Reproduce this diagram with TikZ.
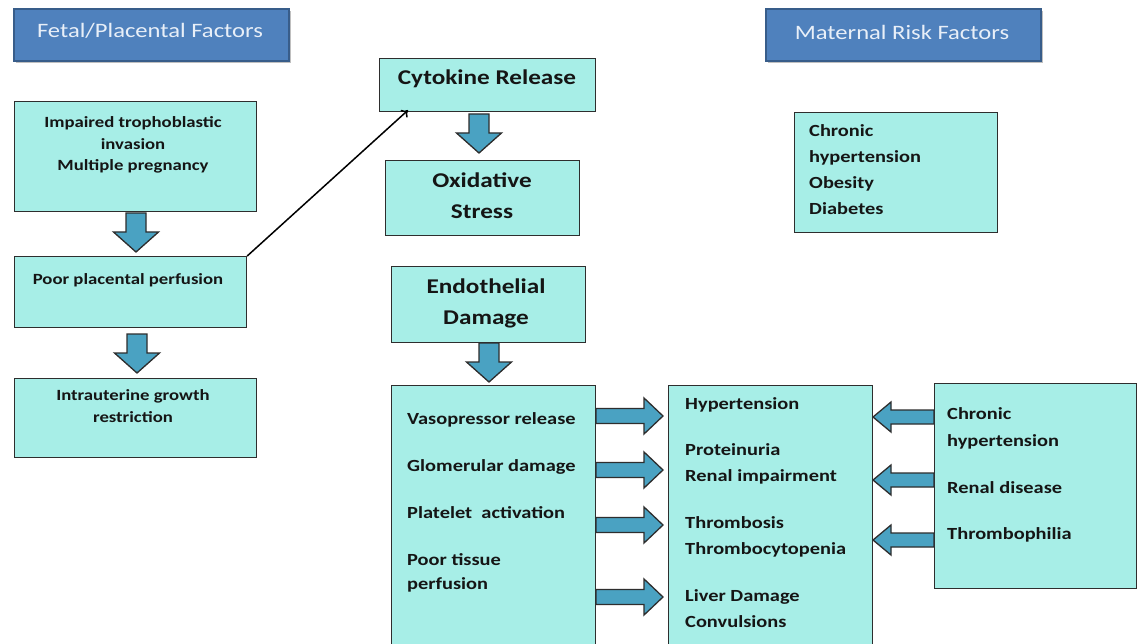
\documentclass[tikz,border=0pt]{standalone}
\usepackage{fontspec}
\setmainfont{Carlito}[FakeStretch=1.2]
\usetikzlibrary{calc,arrows.meta}
\definecolor{boxfill}{HTML}{A7EEE7}
\definecolor{boxline}{HTML}{2E2E2E}
\definecolor{arrfill}{HTML}{4AA2C2}
\definecolor{hdrfill}{HTML}{4F81BD}
\definecolor{hdrline}{HTML}{385D8A}
\definecolor{hdrtext}{HTML}{E8EFF8}
\definecolor{txt}{HTML}{151515}
\tikzset{
  box/.style={draw=boxline, line width=1.2pt, fill=boxfill, anchor=north west, inner sep=0pt},
  hdr/.style={draw=hdrline, line width=1.6pt, fill=hdrfill, anchor=north west, inner sep=0pt,
     minimum width=275pt, minimum height=52pt},
  hdrt/.style={inner sep=0pt, text=hdrtext, font=\fontsize{20.5}{24}\selectfont},
  txtS/.style={inner sep=0pt, text=txt, anchor=north, align=center, font=\bfseries\fontsize{15.6}{21.5}\selectfont},
  txtL/.style={inner sep=0pt, text=txt, anchor=north, align=center, font=\bfseries\fontsize{21}{31}\selectfont},
  txtM/.style={inner sep=0pt, text=txt, anchor=north west, align=left, font=\bfseries\fontsize{17}{24}\selectfont},
  blk/.style={draw=boxline, line width=1.3pt, fill=arrfill, line join=miter},
  pics/darrow/.style={code={\draw[blk] (-10,0) -- (10,0) -- (10,19) -- (22.5,19) -- (0,39) -- (-22.5,19) -- (-10,19) -- cycle;}},
  pics/rarrow/.style={code={\draw[blk] (0,-7.5) -- (48,-7.5) -- (48,-18) -- (67,0) -- (48,18) -- (48,7.5) -- (0,7.5) -- cycle;}},
  pics/larrow/.style={code={\draw[blk] (0,-7) -- (-43,-7) -- (-43,-15) -- (-61,0) -- (-43,15) -- (-43,7) -- (0,7) -- cycle;}},
  linkarrow/.style={draw=black, line width=1.5pt, -{To[length=6pt,width=10pt]}}
}
\begin{document}
\begin{tikzpicture}[x=1pt,y=-1pt]
\useasboundingbox (0,0) rectangle (1137,644);
\fill[white] (0,0) rectangle (1137,644);
\clip (0,0) rectangle (1137,644);

% headers with soft shadow
\fill[black!25] (16,11) rectangle (291,63);
\fill[black!25] (768,11) rectangle (1043,63);
\node[hdr] (fetalhdr) at (13,8) {};
\node[hdrt] (fetalt) at (150,31) {Fetal/Placental Factors};
\node[hdr] (mathdr) at (765,8) {};
\node[hdrt] (matht) at (902,32) {Maternal Risk Factors};

% left column
\node[box, minimum width=242pt, minimum height=110pt] (imp) at (14,101) {};
\node[txtS] (impt) at (133,116.5) {Impaired trophoblastic\\invasion\\Multiple pregnancy};
\node[box, minimum width=232pt, minimum height=71pt] (poor) at (14,256) {};
\node[txtS] (poort) at (128,273.5) {Poor placental perfusion};
\node[box, minimum width=242pt, minimum height=79pt] (iugr) at (14,378) {};
\node[txtS] (iugrt) at (133,389.5) {Intrauterine growth\\restriction};

% middle column
\node[box, minimum width=216pt, minimum height=53pt] (cyto) at (379,58) {};
\node[txtL] (cytot) at (487,70) {Cytokine Release};
\node[box, minimum width=194pt, minimum height=75pt] (oxid) at (385,160) {};
\node[txtL] (oxidt) at (482,172.5) {Oxidative\\Stress};
\node[box, minimum width=194pt, minimum height=76pt] (endo) at (391,266) {};
\node[txtL] (endot) at (486,278.5) {Endothelial\\Damage};
\node[box, minimum width=204pt, minimum height=280pt] (mech) at (391,385) {};
\node[txtM] (mecht) at (407,412) {Vasopressor release\\[23pt]Glomerular damage\\[23pt]Platelet\ \ activation\\[23pt]Poor tissue\\perfusion};

% clinical box
\node[box, minimum width=204pt, minimum height=280pt] (clin) at (668,385) {};
\node[txtM, font=\bfseries\fontsize{17}{26}\selectfont] (clint) at (685,397) {Hypertension\\[20pt]Proteinuria\\Renal impairment\\[21pt]Thrombosis\\Thrombocytopenia\\[21pt]Liver Damage\\Convulsions};

% maternal boxes
\node[box, minimum width=203pt, minimum height=120pt] (mat) at (794,112) {};
\node[txtM, font=\bfseries\fontsize{17}{26}\selectfont] (matt) at (809,124) {Chronic\\hypertension\\Obesity\\Diabetes};
\node[box, minimum width=202pt, minimum height=205pt] (risk) at (934,383) {};
\node[txtM, font=\bfseries\fontsize{17}{27}\selectfont] (riskt) at (947,407) {Chronic\\hypertension\\[20pt]Renal disease\\[19pt]Thrombophilia};

% block arrows
\pic at (136,213) {darrow};
\pic at (137,334) {darrow};
\pic at (479,114) {darrow};
\pic at (489,343) {darrow};
\pic at (596,416) {rarrow};
\pic at (596,470) {rarrow};
\pic at (596,525) {rarrow};
\pic at (596,597) {rarrow};
\pic at (934,417) {larrow};
\pic at (934,480) {larrow};
\pic at (934,540) {larrow};

% connector
\coordinate (cytoin) at ($(cyto.south west)+(29,-2)$);
\draw[linkarrow] (poor.north east) -- (cytoin);
\end{tikzpicture}
\end{document}
